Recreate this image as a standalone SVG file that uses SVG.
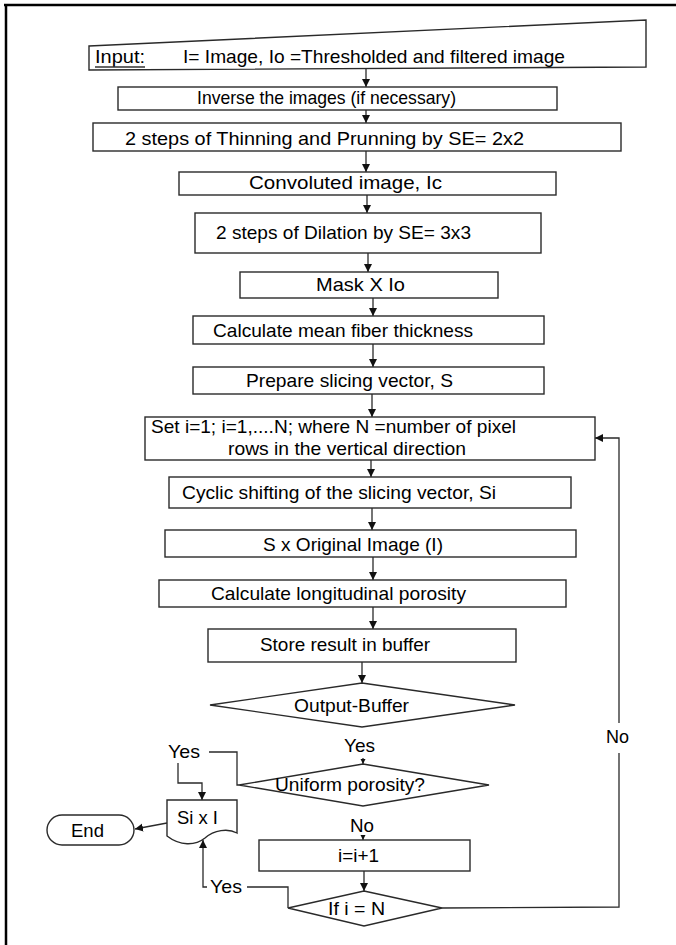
<svg xmlns="http://www.w3.org/2000/svg" width="676" height="945" viewBox="0 0 676 945">
<style>
.b{fill:#fff;stroke:#2a2a2a;stroke-width:1.4}
.c{fill:none;stroke:#2a2a2a;stroke-width:1.3}
.t{font-family:"Liberation Sans",Arial,sans-serif;font-size:19px;fill:#000}
</style>
<defs>
<marker id="ah" viewBox="0 0 10 10" refX="10" refY="5" markerWidth="8" markerHeight="9" markerUnits="userSpaceOnUse" orient="auto">
<path d="M0,0 L10,5 L0,10 z" fill="#111"/>
</marker>
<marker id="ahs" viewBox="0 0 10 10" refX="10" refY="5" markerWidth="5" markerHeight="6" markerUnits="userSpaceOnUse" orient="auto">
<path d="M0,0 L10,5 L0,10 z" fill="#111"/>
</marker>
</defs>
<rect width="676" height="945" fill="#fff"/>
<g id="frame">
<line x1="4" y1="5" x2="676" y2="5" stroke="#000" stroke-width="2.5"/>
<line x1="6" y1="4" x2="6" y2="945" stroke="#000" stroke-width="2.5"/>
</g>
<g id="connectors">
<line class="c" x1="366" y1="68" x2="366" y2="87" marker-end="url(#ah)"/>
<line class="c" x1="366" y1="110" x2="366" y2="123" marker-end="url(#ah)"/>
<line class="c" x1="366" y1="151" x2="366" y2="172" marker-end="url(#ah)"/>
<line class="c" x1="367" y1="195" x2="367" y2="213" marker-end="url(#ah)"/>
<line class="c" x1="368" y1="253" x2="368" y2="272" marker-end="url(#ah)"/>
<line class="c" x1="373" y1="298" x2="373" y2="316" marker-end="url(#ah)"/>
<line class="c" x1="373" y1="344" x2="373" y2="367" marker-end="url(#ah)"/>
<line class="c" x1="372" y1="394" x2="372" y2="417" marker-end="url(#ah)"/>
<line class="c" x1="371" y1="460" x2="371" y2="477" marker-end="url(#ah)"/>
<line class="c" x1="372" y1="508" x2="372" y2="530" marker-end="url(#ah)"/>
<line class="c" x1="373" y1="557" x2="373" y2="580" marker-end="url(#ah)"/>
<line class="c" x1="373" y1="607" x2="373" y2="629" marker-end="url(#ah)"/>
<line class="c" x1="362" y1="662" x2="362" y2="683" marker-end="url(#ah)"/>
<line class="c" x1="363" y1="758" x2="363" y2="764" marker-end="url(#ahs)"/>
<line class="c" x1="363" y1="837" x2="363" y2="840" marker-end="url(#ahs)"/>
<line class="c" x1="364" y1="871" x2="364" y2="891" marker-end="url(#ah)"/>
<polyline class="c" points="239,785 237,785 237,752 209,752"/>
<polyline class="c" points="178,763 178,783 202,783 202,800" marker-end="url(#ah)"/>
<line class="c" x1="167" y1="823" x2="135" y2="829" marker-end="url(#ah)"/>
<polyline class="c" points="288,908 288,887 247,887"/>
<polyline class="c" points="207,887 203,887 203,840" marker-end="url(#ah)"/>
<polyline class="c" points="442,908 619,907 619,753"/>
<polyline class="c" points="619,723 619,438 595,438" marker-end="url(#ah)"/>
</g>
<g id="n1"><path class="b" d="M89,46 L646,20 L646,67 L89,70 Z"/>
<text class="t" x="95" y="63" textLength="50" lengthAdjust="spacingAndGlyphs">Input:</text>
<line x1="95" y1="67" x2="145" y2="67" stroke="#333" stroke-width="1.6"/>
<text class="t" x="183" y="63" textLength="382" lengthAdjust="spacingAndGlyphs">I= Image, Io =Thresholded and filtered image</text></g>
<g id="n2"><rect class="b" x="118" y="87" width="439" height="23"/>
<text class="t" x="197" y="104" textLength="259" lengthAdjust="spacingAndGlyphs">Inverse the images (if necessary)</text></g>
<g id="n3"><rect class="b" x="93" y="123" width="528" height="28"/>
<text class="t" x="125" y="145" textLength="399" lengthAdjust="spacingAndGlyphs">2 steps of Thinning and Prunning by SE= 2x2</text></g>
<g id="n4"><rect class="b" x="179" y="172" width="377" height="23"/>
<text class="t" x="249" y="189" textLength="193" lengthAdjust="spacingAndGlyphs">Convoluted image, Ic</text></g>
<g id="n5"><rect class="b" x="195" y="213" width="346" height="40"/>
<text class="t" x="216" y="239" textLength="255" lengthAdjust="spacingAndGlyphs">2 steps of Dilation by SE= 3x3</text></g>
<g id="n6"><rect class="b" x="240" y="272" width="258" height="26"/>
<text class="t" x="316" y="291" textLength="89" lengthAdjust="spacingAndGlyphs">Mask X  Io</text></g>
<g id="n7"><rect class="b" x="193" y="316" width="351" height="28"/>
<text class="t" x="213" y="337" textLength="260" lengthAdjust="spacingAndGlyphs">Calculate mean fiber thickness</text></g>
<g id="n8"><rect class="b" x="193" y="367" width="351" height="27"/>
<text class="t" x="246" y="387" textLength="207" lengthAdjust="spacingAndGlyphs">Prepare slicing vector, S</text></g>
<g id="n9"><rect class="b" x="145" y="417" width="450" height="43"/>
<text class="t" x="151" y="433" textLength="365" lengthAdjust="spacingAndGlyphs">Set i=1; i=1,....N; where N =number of pixel</text>
<text class="t" x="228" y="455" textLength="238" lengthAdjust="spacingAndGlyphs">rows in the vertical direction</text></g>
<g id="n10"><rect class="b" x="169" y="477" width="402" height="31"/>
<text class="t" x="182" y="499" textLength="314" lengthAdjust="spacingAndGlyphs">Cyclic shifting of the slicing vector, Si</text></g>
<g id="n11"><rect class="b" x="165" y="530" width="411" height="27"/>
<text class="t" x="263" y="551" textLength="180" lengthAdjust="spacingAndGlyphs">S x Original Image (I)</text></g>
<g id="n12"><rect class="b" x="159" y="580" width="407" height="27"/>
<text class="t" x="211" y="600" textLength="255" lengthAdjust="spacingAndGlyphs">Calculate longitudinal porosity</text></g>
<g id="n13"><rect class="b" x="208" y="629" width="308" height="33"/>
<text class="t" x="260" y="651" textLength="170" lengthAdjust="spacingAndGlyphs">Store result in buffer</text></g>
<g id="n14"><polygon class="b" points="362,683 515,705 362,727 210,705"/>
<text class="t" x="294" y="712" textLength="115" lengthAdjust="spacingAndGlyphs">Output-Buffer</text></g>
<g id="n15"><polygon class="b" points="363,764 489,785 363,806 239,785"/>
<text class="t" x="275" y="791" textLength="150" lengthAdjust="spacingAndGlyphs">Uniform porosity?</text></g>
<g id="n16"><rect class="b" x="259" y="840" width="211" height="31"/>
<text class="t" x="338" y="862" textLength="41" lengthAdjust="spacingAndGlyphs">i=i+1</text></g>
<g id="n17"><polygon class="b" points="364,891 442,908 364,926 288,908"/>
<text class="t" x="328" y="915" textLength="57" lengthAdjust="spacingAndGlyphs">If i = N</text></g>
<g id="n18"><path class="b" d="M167,800 H237 V833 C228,828 214,830 205,838 C195,846 180,846 167,836 Z"/>
<text class="t" x="177" y="824" textLength="41" lengthAdjust="spacingAndGlyphs">Si x I</text></g>
<g id="n19"><rect class="b" x="47" y="815" width="87" height="30" rx="15" ry="15"/>
<text class="t" x="71" y="837" textLength="33" lengthAdjust="spacingAndGlyphs">End</text></g>
<g id="labels">
<text class="t" x="344" y="752" textLength="31" lengthAdjust="spacingAndGlyphs">Yes</text>
<text class="t" x="168" y="758" textLength="32" lengthAdjust="spacingAndGlyphs">Yes</text>
<text class="t" x="350" y="832" textLength="24" lengthAdjust="spacingAndGlyphs">No</text>
<text class="t" x="210" y="893" textLength="32" lengthAdjust="spacingAndGlyphs">Yes</text>
<text class="t" x="606" y="743" textLength="23" lengthAdjust="spacingAndGlyphs">No</text>
</g>
</svg>
